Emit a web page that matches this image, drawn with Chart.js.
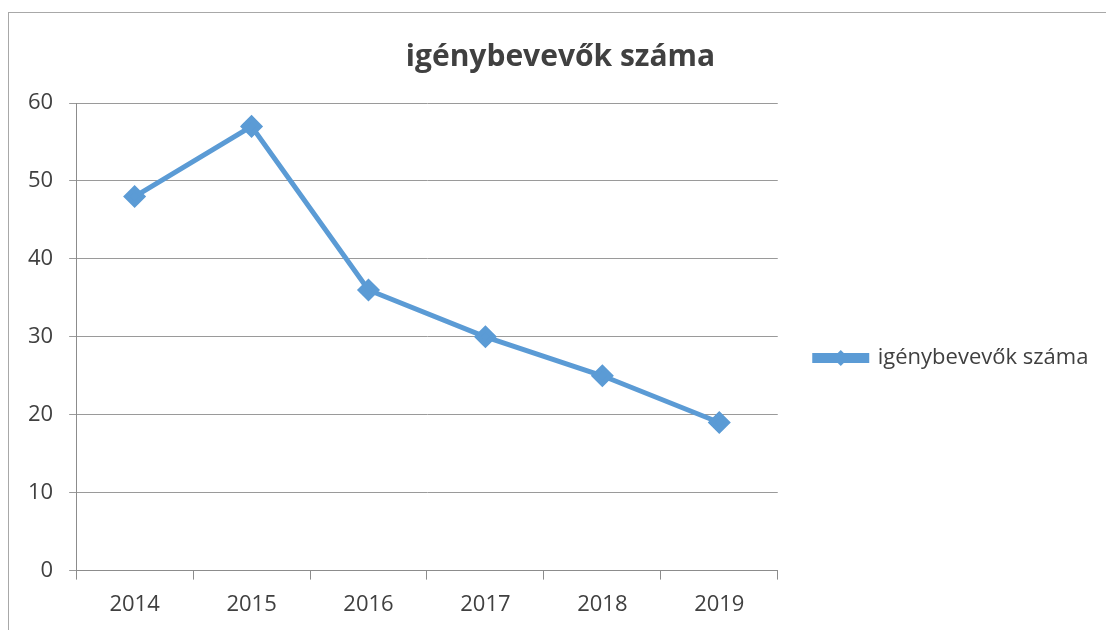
<!DOCTYPE html>
<html>
<head>
<meta charset="utf-8">
<script src="https://cdn.jsdelivr.net/npm/chart.js@4.4.0/dist/chart.umd.min.js"></script>
<style>
  html, body { margin: 0; padding: 0; background: #fff; }
  #wrap { position: relative; width: 1106px; height: 630px; overflow: hidden; }
  #frame { position: absolute; left: 8px; top: 12px; width: 1200px; height: 700px; border: 1px solid #a8a8a8; }
  canvas { position: absolute; left: 0; top: 0; }
</style>
</head>
<body>
<div id="wrap">
  <div id="frame"></div>
  <canvas id="lineChart" width="1106" height="630"></canvas>
</div>
<script>
const years = ['2014', '2015', '2016', '2017', '2018', '2019'];
const users = [48, 57, 36, 30, 25, 19];
const seriesName = 'igénybevevők száma';

const blue = '#5b9bd5';
const textColor = '#404040';
const font = "'Open Sans', sans-serif";

// nudge legend and title to where the spreadsheet puts them
const legendShift = { dx: 33, dy: 43 };
const titleShift = 38;
const placeBlocks = {
  id: 'placeBlocks',
  afterLayout(chart) {
    const lg = chart.legend;
    if (lg) {
      lg.left += legendShift.dx;
      lg.right = chart.width;
      lg.top += legendShift.dy; lg.bottom += legendShift.dy;
    }
    const tb = chart.titleBlock;
    if (tb) { tb.left += titleShift; tb.right += titleShift; }
  }
};

// diamond on top of the legend line sample
const legendDiamond = {
  id: 'legendDiamond',
  afterDraw(chart) {
    const boxes = chart.legend.legendHitBoxes;
    if (!boxes || !boxes.length) return;
    const ctx = chart.ctx;
    const b = boxes[0];
    const cx = b.left + 26, cy = b.top + b.height / 2;
    ctx.save();
    ctx.fillStyle = blue;
    ctx.beginPath();
    ctx.moveTo(cx, cy - 8);
    ctx.lineTo(cx + 8, cy);
    ctx.lineTo(cx, cy + 8);
    ctx.lineTo(cx - 8, cy);
    ctx.closePath();
    ctx.fill();
    ctx.restore();
  }
};

new Chart(document.getElementById('lineChart'), {
  type: 'line',
  data: {
    labels: years,
    datasets: [{
      label: seriesName,
      data: users,
      borderColor: blue,
      backgroundColor: blue,
      borderWidth: 5,
      pointStyle: 'rectRot',
      pointRadius: 8,
      pointHoverRadius: 8,
      pointBackgroundColor: blue,
      pointBorderColor: blue,
      tension: 0
    }]
  },
  options: {
    responsive: false,
    animation: false,
    layout: { padding: { left: 12, right: 73, top: 0, bottom: 0 } },
    plugins: {
      title: {
        display: true,
        text: seriesName,
        color: textColor,
        font: { family: font, size: 30, weight: 'bold' },
        padding: { top: 39, bottom: 28 }
      },
      legend: {
        position: 'right',
        labels: {
          color: textColor,
          font: { family: font, size: 22 },
          boxWidth: 52,
          boxHeight: 5,
          padding: 4
        }
      },
      tooltip: { enabled: false }
    },
    scales: {
      x: {
        offset: true,
        grid: { offset: true, drawOnChartArea: false, color: '#8c8c8c', tickLength: 9 },
        border: { color: '#8c8c8c' },
        ticks: { color: textColor, font: { family: font, size: 22 }, padding: 12 }
      },
      y: {
        min: 0,
        max: 60,
        grid: { color: '#9a9a9a', tickLength: 7 },
        border: { color: '#8c8c8c' },
        ticks: { stepSize: 10, color: textColor, font: { family: font, size: 22 }, padding: 16 }
      }
    }
  },
  plugins: [placeBlocks, legendDiamond]
});
</script>
</body>
</html>
